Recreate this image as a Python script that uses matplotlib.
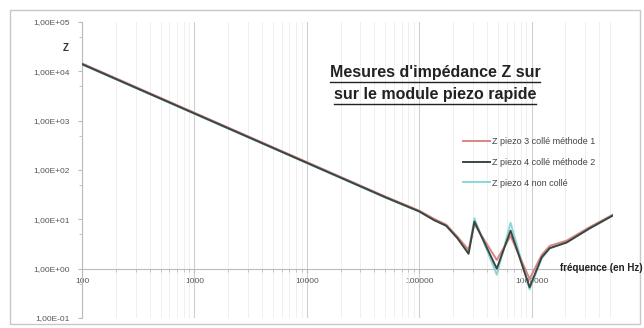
import numpy as np
import matplotlib.pyplot as plt
from matplotlib.patches import Rectangle
from matplotlib.ticker import LogLocator, FixedLocator, NullFormatter

# measured impedance |Z| (ohm) vs frequency (Hz)
freq = [100, 1000, 10000, 50000, 100000, 136000, 174000, 218000, 275000, 310000,
        490000, 650000, 960000, 1230000, 1450000, 2050000, 3300000, 5300000]
z_piezo3_colle = [14500, 1450, 145, 29, 15, 10.2, 7.8, 4.5, 2.4, 8.0,
                  1.5, 4.6, 0.62, 1.9, 2.9, 3.7, 7.0, 12.5]
z_piezo4_colle = [14000, 1400, 140, 28, 14.5, 9.6, 7.4, 4.2, 2.0, 9.0,
                  1.0, 5.9, 0.42, 1.7, 2.6, 3.4, 6.6, 12.0]
z_piezo4_libre = [13800, 1380, 138, 27.6, 14.3, 9.7, 7.4, 4.2, 2.2, 10.5,
                  0.75, 8.5, 0.38, 1.6, 2.6, 3.4, 6.6, 12.0]

series_labels = ['Z piezo 3 collé méthode 1', 'Z piezo 4 collé méthode 2', 'Z piezo 4 non collé']
series_colors = ['#d98585', '#3b4640', '#8ad8d8']
series_z = [3, 4, 2]
y_ticks = [1e-1, 1e0, 1e1, 1e2, 1e3, 1e4, 1e5]
x_ticks = [100, 1000, 10000, 100000, 1000000]

plt.rcParams['font.family'] = ['Liberation Sans', 'DejaVu Sans']

fig = plt.figure(figsize=(6.44, 3.28), dpi=100)
fig.patches.append(Rectangle((10 / 644, 4 / 328), 630 / 644, 314 / 328, transform=fig.transFigure,
                             fill=False, edgecolor='#c8c8c8', linewidth=1.0))
ax = fig.add_axes([82 / 644, 10 / 328, 531 / 644, 296 / 328])

for z, lab, col, zo in zip([z_piezo3_colle, z_piezo4_colle, z_piezo4_libre], series_labels, series_colors, series_z):
    ax.plot(freq, z, color=col, linewidth=1.4, label=lab, zorder=zo)

ax.set_xscale('log')
ax.set_yscale('log')
ax.set_xlim(100, 5.3e6)
ax.set_ylim(1e-1, 1e5)

# Excel-like axes: y axis on the left, x axis crossing at Z = 1
ax.spines['top'].set_visible(False)
ax.spines['right'].set_visible(False)
ax.spines['bottom'].set_position(('data', 1))
ax.spines['bottom'].set_color('#bbbbbb')
ax.spines['left'].set_color('#bbbbbb')

ax.xaxis.set_major_locator(FixedLocator(x_ticks))
ax.xaxis.set_minor_locator(LogLocator(base=10, subs=np.arange(2, 10)))
ax.xaxis.set_minor_formatter(NullFormatter())
ax.set_xticklabels([str(v) for v in x_ticks])
ax.yaxis.set_major_locator(FixedLocator(y_ticks))
ax.yaxis.set_minor_formatter(NullFormatter())
ax.yaxis.set_minor_locator(LogLocator(base=10, subs=[5]))
ax.set_yticklabels([('%.2E' % v).replace('.', ',') for v in y_ticks])

ax.tick_params(axis='both', which='major', labelsize=6, labelcolor='#555555', color='#bbbbbb', length=3)
ax.tick_params(axis='both', which='minor', color='#bbbbbb', length=2)
ax.tick_params(axis='y', pad=6)
ax.tick_params(axis='x', pad=4)
ax.grid(True, axis='x', which='major', color='#d0d0d0', linewidth=0.8)
ax.grid(True, axis='x', which='minor', color='#ececec', linewidth=0.6)

fig.text(66 / 644, 1 - 48 / 328, 'Z', fontsize=7, fontweight='bold', color='#333333', ha='center', va='center')
fig.text(560 / 644, 1 - 268 / 328, 'fréquence (en Hz)', fontsize=7, fontweight='bold', color='#222222',
         ha='left', va='center')

title_lines = ["Mesures d'impédance Z sur", 'sur le module piezo rapide']
title_texts = []
for i, line in enumerate(title_lines):
    t = fig.text(435 / 644, 1 - (73 + 22 * i) / 328, line, fontsize=11.5, fontweight='bold',
                 color='#222222', ha='center', va='center')
    title_texts.append(t)

leg = ax.legend(loc='upper left', bbox_to_anchor=(455 / 644, 1 - 129 / 328), bbox_transform=fig.transFigure,
                frameon=False, fontsize=6.5, handlelength=3.0, handletextpad=0.2, labelspacing=1.3,
                labelcolor='#444444')

# underline the title lines
fig.canvas.draw()
renderer = fig.canvas.get_renderer()
for t in title_texts:
    bb = t.get_window_extent(renderer).transformed(fig.transFigure.inverted())
    fig.add_artist(plt.Line2D([bb.x0, bb.x1], [bb.y0 - 0.004, bb.y0 - 0.004], transform=fig.transFigure,
                              color='#222222', linewidth=1.0))

fig.savefig('out.png', dpi=100)
